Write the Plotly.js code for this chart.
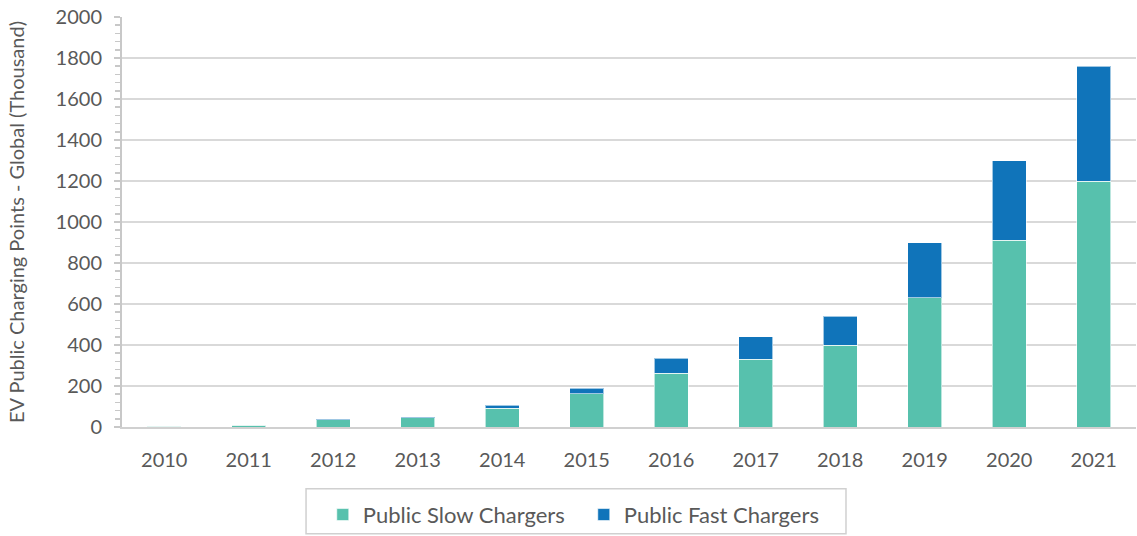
<!DOCTYPE html>
<html>
<head>
<meta charset="utf-8">
<script src="https://cdn.plot.ly/plotly-3.0.1.min.js"></script>
<style>html,body{margin:0;padding:0;background:#fff;}#chart{width:1137px;height:536px;}</style>
</head>
<body>
<div id="chart"></div>
<script>
var years = ["2010","2011","2012","2013","2014","2015","2016","2017","2018","2019","2020","2021"];
var slowChargers = [3, 9, 35, 46, 92, 162, 262, 330, 400, 630, 910, 1200];
var fastChargers = [0.5, 2, 3, 2, 15, 27, 73, 110, 140, 270, 390, 560];
var yTickVals = [0,200,400,600,800,1000,1200,1400,1600,1800,2000];

var font = "Lato, 'Open Sans', sans-serif";
var traces = [
  {type:"bar", name:"Public Slow Chargers", x:years, y:slowChargers,
   marker:{color:"#57C1AD", line:{color:"rgba(255,255,255,0.6)", width:1}}},
  {type:"bar", name:"Public Fast Chargers", x:years, y:fastChargers,
   marker:{color:"#1074BA", line:{color:"rgba(255,255,255,0.6)", width:1}}}
];
var layout = {
  width:1137, height:536,
  margin:{l:122, r:1, t:17, b:108},
  barmode:"stack", bargap:0.6,
  paper_bgcolor:"#fff", plot_bgcolor:"#fff",
  font:{family:font, color:"#595959", size:20},
  showlegend:true,
  legend:{orientation:"h", x:0.198, xanchor:"left", y:-0.16, yanchor:"top",
    borderwidth:0, bgcolor:"rgba(0,0,0,0)", font:{size:22, color:"#595959"},
    entrywidth:216, entrywidthmode:"pixels", traceorder:"normal"},
  shapes:[{type:"rect", xref:"paper", yref:"paper", x0:0.1815, x1:0.7140, y0:-0.1509, y1:-0.2603,
    line:{color:"#d0d0d0", width:1.5}, fillcolor:"rgba(0,0,0,0)"}],
  xaxis:{type:"category", automargin:false, showgrid:false, showline:true, linecolor:"#d0d0d0", linewidth:2,
    ticks:"", ticklabelstandoff:14, tickfont:{size:20, color:"#595959"}, zeroline:false},
  yaxis:{range:[0,2000], automargin:false, tickvals:yTickVals, showgrid:true, gridcolor:"#d9d9d9", gridwidth:2,
    showline:true, linecolor:"#c8c8c8", linewidth:2, ticks:"outside", ticklen:6, tickcolor:"#c8c8c8",
    tickwidth:2, zeroline:false, ticklabelstandoff:8, tickfont:{size:20, color:"#595959"},
    minor:{dtick:40, ticks:"outside", ticklen:5, tickcolor:"#c8c8c8", tickwidth:1.5, showgrid:false},
    title:{text:"EV Public Charging Points - Global (Thousand)", font:{size:20, color:"#595959"}, standoff:26}}
};
Plotly.newPlot("chart", traces, layout, {displayModeBar:false, staticPlot:true});
</script>
</body>
</html>
